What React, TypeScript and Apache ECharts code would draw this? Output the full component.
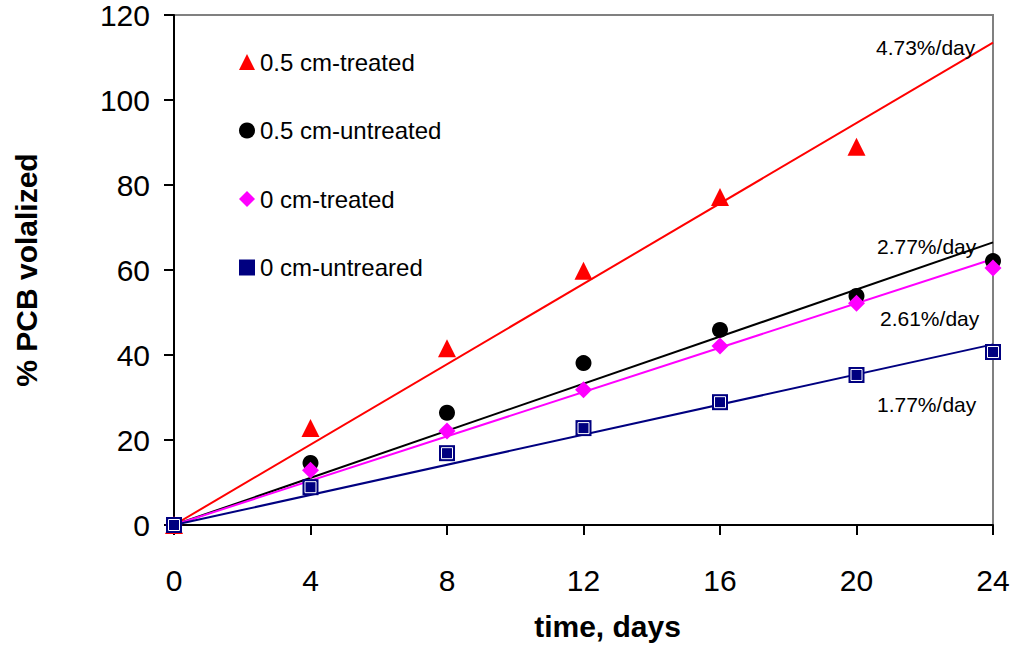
import React, { useEffect, useRef } from "react";
import * as echarts from "echarts";

const days = [0, 4, 8, 12, 16, 20, 24];
const treated05 = [0, 22.8, 41.6, 59.8, 77.2, 89.0];
const untreated05 = [0, 14.6, 26.4, 38.1, 45.9, 53.9, 62.1];
const treated0 = [0, 12.9, 22.1, 31.8, 42.1, 52.2, 60.5];
const untreated0 = [0, 8.9, 16.9, 22.8, 28.9, 35.3, 40.7];

const seriesNames = ["0.5 cm-treated", "0.5 cm-untreated", "0 cm-treated", "0 cm-untreared"];
const seriesColors = ["#FF0000", "#000000", "#FF00FF", "#000080"];
const seriesSymbols = ["triangle", "circle", "diamond", "rect"];
const seriesSizes = [18, 16, 17, 16];
const seriesValues = [treated05, untreated05, treated0, untreated0];

// fitted trend lines through origin: value at day 24
const trendStart = [0, 0];
const trendEndDay = 24;
const trendEndValues = [113.5, 66.5, 62.6, 42.5];
const trendLabels = ["4.73%/day", "2.77%/day", "2.61%/day", "1.77%/day"];

const yTicks = [0, 20, 40, 60, 80, 100, 120];
const xTicks = [0, 4, 8, 12, 16, 20, 24];

const FONT = "'Liberation Sans', Arial, Helvetica, sans-serif";

export default function App() {
  const ref = useRef<HTMLDivElement>(null);
  useEffect(() => {
    document.body.style.margin = "0";
    if (!ref.current) return;
    const chart = echarts.init(ref.current, null, { renderer: "svg" });

    const lineSeries = trendEndValues.map((v, i) => ({
      type: "line",
      name: "trend-" + i,
      data: [trendStart, [trendEndDay, v]],
      showSymbol: false,
      symbol: "none",
      lineStyle: { color: seriesColors[i], width: 2 },
      silent: true,
      z: 2,
    }));

    const scatterSeries = seriesValues.map((vals, i) => ({
      type: "scatter",
      name: seriesNames[i],
      data: vals.map((v, j) => [days[j], v]),
      symbol: seriesSymbols[i],
      symbolSize: seriesSizes[i],
      itemStyle: { color: seriesColors[i], opacity: 1 },
      z: 3,
    }));

    const squareInner = {
      type: "scatter",
      name: "inner",
      data: untreated0.map((v, j) => [days[j], v]),
      symbol: "rect",
      symbolSize: 11,
      itemStyle: { color: "#000080", borderColor: "#FFFFFF", borderWidth: 1, opacity: 1 },
      silent: true,
      z: 4,
    };

    const labelY = [48, 247, 319, 405];
    const labelX = [876, 877, 880, 877];

    chart.setOption({
      animation: false,
      grid: {
        left: 174,
        top: 15,
        right: 23,
        bottom: 126,
        show: true,
        borderColor: "#808080",
        borderWidth: 2,
        backgroundColor: "transparent",
      },
      xAxis: {
        type: "value",
        min: xTicks[0],
        max: xTicks[xTicks.length - 1],
        interval: 4,
        name: "time, days",
        nameLocation: "middle",
        nameGap: 86,
        nameTextStyle: {
          fontFamily: FONT,
          fontSize: 30,
          fontWeight: "bold",
          color: "#000",
          padding: [0, 0, 0, 48],
        },
        axisLine: { show: true, lineStyle: { color: "#000", width: 2 } },
        axisTick: { show: true, inside: false, length: 10, lineStyle: { color: "#000", width: 2 } },
        axisLabel: { fontFamily: FONT, fontSize: 30, color: "#000", margin: 40 },
        splitLine: { show: false },
      },
      yAxis: {
        type: "value",
        min: yTicks[0],
        max: yTicks[yTicks.length - 1],
        interval: 20,
        name: "% PCB volalized",
        nameLocation: "middle",
        nameRotate: 90,
        nameGap: 133,
        nameTextStyle: { fontFamily: FONT, fontSize: 30, fontWeight: "bold", color: "#000" },
        axisLine: { show: true, lineStyle: { color: "#000", width: 2 } },
        axisTick: { show: true, inside: false, length: 10, lineStyle: { color: "#000", width: 2 } },
        axisLabel: { fontFamily: FONT, fontSize: 30, color: "#000", margin: 24 },
        splitLine: { show: false },
      },
      legend: {
        data: seriesNames,
        orient: "vertical",
        left: 234,
        top: 42,
        itemWidth: 16,
        itemHeight: 16,
        itemGap: 38.5,
        selectedMode: false,
        textStyle: {
          fontFamily: FONT,
          fontSize: 24,
          color: "#000",
          lineHeight: 20,
          padding: [10, 0, 0, 0],
        },
      },
      graphic: trendLabels.map((t, i) => ({
        type: "text",
        left: labelX[i],
        top: labelY[i] - 11,
        style: { text: t, fontFamily: FONT, fontSize: 21, fill: "#000" },
        z: 10,
      })),
      series: [...lineSeries, ...scatterSeries, squareInner],
    });
    return () => chart.dispose();
  }, []);
  return <div ref={ref} style={{ width: 1016, height: 651 }} />;
}
